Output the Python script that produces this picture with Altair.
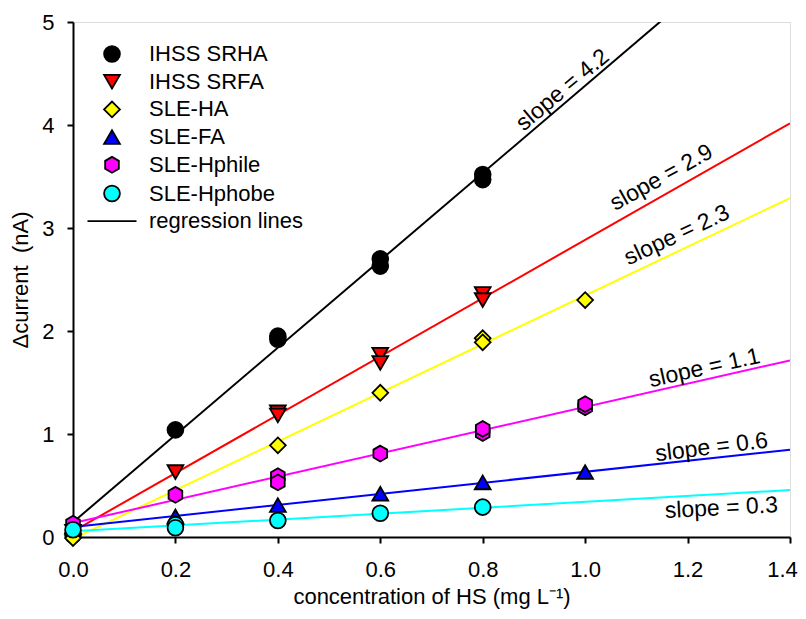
import altair as alt
import pandas as pd

# ---- data ----
series_names = ["IHSS SRHA", "IHSS SRFA", "SLE-HA", "SLE-FA", "SLE-Hphile", "SLE-Hphobe"]
series_colors = ["#000000", "#FF0000", "#FFFF00", "#0000FF", "#FF00FF", "#00FFFF"]

srha_x = [0.0, 0.2, 0.4, 0.4, 0.6, 0.6, 0.8, 0.8]
srha_y = [0.02, 1.04, 1.92, 1.95, 2.70, 2.63, 3.52, 3.47]

srfa_x = [0.0, 0.2, 0.4, 0.4, 0.6, 0.6, 0.8, 0.8]
srfa_y = [0.05, 0.63, 1.21, 1.18, 1.77, 1.69, 2.36, 2.30]

ha_x = [0.0, 0.4, 0.6, 0.8, 0.8, 1.0]
ha_y = [-0.01, 0.89, 1.40, 1.93, 1.89, 2.30]

fa_x = [0.0, 0.2, 0.4, 0.6, 0.8, 1.0]
fa_y = [0.10, 0.20, 0.31, 0.42, 0.53, 0.63]

hphile_x = [0.0, 0.2, 0.4, 0.4, 0.6, 0.8, 0.8, 1.0, 1.0]
hphile_y = [0.13, 0.41, 0.59, 0.53, 0.81, 1.01, 1.05, 1.26, 1.29]

hphobe_x = [0.0, 0.2, 0.2, 0.4, 0.6, 0.8]
hphobe_y = [0.07, 0.12, 0.09, 0.16, 0.23, 0.29]

all_x = [srha_x, srfa_x, ha_x, fa_x, hphile_x, hphobe_x]
all_y = [srha_y, srfa_y, ha_y, fa_y, hphile_y, hphobe_y]

# slope annotations
slope_text = ["slope = 4.2", "slope = 2.9", "slope = 2.3", "slope = 1.1", "slope = 0.6", "slope = 0.3"]
slope_x = [0.956, 1.149, 1.179, 1.233, 1.247, 1.266]
slope_y = [4.34, 3.49, 2.93, 1.64, 0.87, 0.28]
slope_angle = [320, 331, 335, 347.5, 353, 357]

x_ticks = [0.0, 0.2, 0.4, 0.6, 0.8, 1.0, 1.2, 1.4]
y_ticks = [0, 1, 2, 3, 4, 5]

# ---- build tables ----
HEX = "M0,-1L0.866,-0.5L0.866,0.5L0,1L-0.866,0.5L-0.866,-0.5Z"
LINE_SYM = "M-3.1,0L3.1,0"
series_shapes = ["circle", "triangle-down", "diamond", "triangle-up", HEX, "circle"]

rows = []
for name, xs_, ys_ in zip(series_names, all_x, all_y):
    for xv, yv in zip(xs_, ys_):
        rows.append({"series": name, "conc": xv, "current": yv})
df = pd.DataFrame(rows)

ann = pd.DataFrame({"label": slope_text, "conc": slope_x, "current": slope_y, "angle": slope_angle})

FONT = "Liberation Sans"
legend_domain = series_names + ["regression lines"]
shape_scale = alt.Scale(domain=legend_domain, range=series_shapes + [LINE_SYM])
fill_scale = alt.Scale(domain=legend_domain, range=series_colors + ["#000000"])
stroke_scale = alt.Scale(domain=legend_domain, range=["#000000"] * len(legend_domain))

xscale = alt.Scale(domain=[0, 1.4], nice=False, zero=False)
yscale = alt.Scale(domain=[0, 5], nice=False, zero=False)

x_axis = alt.Axis(values=x_ticks, format=".1f", title="concentration of HS (mg L\u207b\u00b9)",
                  grid=False, tickSize=6, tickWidth=2, domainWidth=2, domainColor="black",
                  tickColor="black", labelColor="black", titleColor="black",
                  labelFontSize=22, titleFontSize=22, labelFont=FONT, titleFont=FONT,
                  titleFontWeight="normal", labelPadding=16, titlePadding=6, labelFlush=False,
                  labelOffset={"condition": {"test": "datum.value >= 1.39", "value": -8}, "value": 0})
y_axis = alt.Axis(values=y_ticks, format="d", title="\u0394current\u00a0 (nA)",
                  grid=False, tickSize=6, tickWidth=2, domainWidth=2, domainColor="black",
                  tickColor="black", labelColor="black", titleColor="black",
                  labelFontSize=22, titleFontSize=22, labelFont=FONT, titleFont=FONT,
                  titleFontWeight="normal", labelPadding=13, titlePadding=9, labelFlush=False)

leg = alt.Legend(orient="none", legendX=28, legendY=21, title=None, labelFontSize=22,
                 labelFont=FONT, labelColor="black", symbolSize=250, symbolStrokeColor="black",
                 symbolStrokeWidth=1.8, symbolOpacity=1, rowPadding=4.7, labelOffset=26, padding=0)

base = alt.Chart(df)

lines = base.transform_regression(
    "conc", "current", groupby=["series"], extent=[0, 1.4]
).mark_line(clip=True, strokeWidth=2).encode(
    x=alt.X("conc:Q", scale=xscale, axis=x_axis),
    y=alt.Y("current:Q", scale=yscale, axis=y_axis),
    color=alt.Color("series:N", scale=alt.Scale(domain=series_names, range=series_colors), legend=None),
)

points = base.mark_point(filled=True, size=250, strokeWidth=1.8, opacity=1).encode(
    x=alt.X("conc:Q", scale=xscale),
    y=alt.Y("current:Q", scale=yscale),
    shape=alt.Shape("series:N", scale=shape_scale, legend=leg),
    fill=alt.Fill("series:N", scale=fill_scale, legend=leg),
    stroke=alt.Stroke("series:N", scale=stroke_scale, legend=leg),
)

texts = alt.Chart(ann).mark_text(font=FONT, fontSize=23, color="black", align="center",
                                 baseline="middle").encode(
    x=alt.X("conc:Q", scale=xscale),
    y=alt.Y("current:Q", scale=yscale),
    text="label:N",
    angle=alt.Angle("angle:Q", scale=None),
)

chart = alt.layer(lines, points, texts).properties(
    width=717, height=515,
    padding={"left": 65, "top": 14, "right": 8, "bottom": 72},
    autosize=alt.AutoSizeParams(type="none"),
).configure_view(stroke="black", strokeWidth=2).configure(background="white")

chart.save("out.html", embed_options={"renderer": "svg", "actions": False})
